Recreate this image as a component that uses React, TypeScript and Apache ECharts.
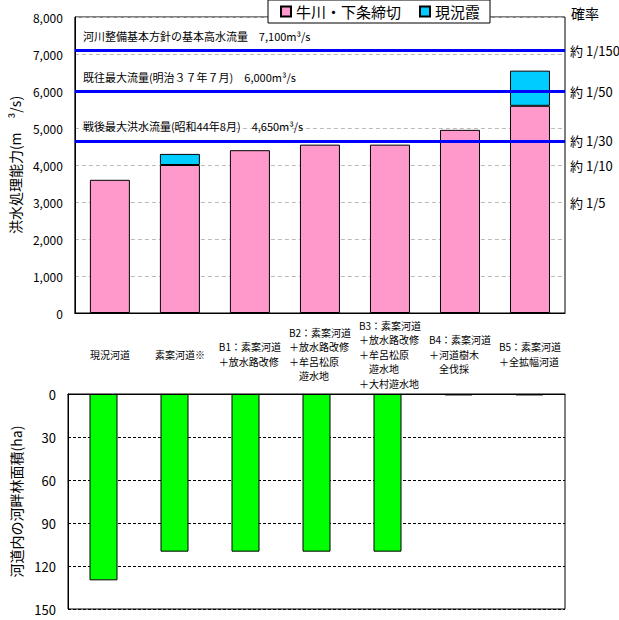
import React, { useEffect, useRef } from 'react';
import * as echarts from 'echarts';

const categories = [
  '現況河道',
  '素案河道※',
  'B1：素案河道\n＋放水路改修',
  'B2：素案河道\n＋放水路改修\n＋牟呂松原\n　遊水地',
  'B3：素案河道\n＋放水路改修\n＋牟呂松原\n　遊水地\n＋大村遊水地',
  'B4：素案河道\n＋河道樹木\n　全伐採',
  'B5：素案河道\n＋全拡幅河道',
];
const seriesNames = ['牛川・下条締切', '現況霞'];
const mainFlow = [3600, 4000, 4400, 4550, 4550, 4950, 5600];
const kasumiFlow = [null, 300, null, null, null, null, 950];
const forestArea = [130, 110, 110, 110, 110, 1, 1];
const refLineValues = [7100, 6000, 4650];
const refLineTexts = [
  '河川整備基本方針の基本高水流量　7,100m³/s',
  '既往最大流量(明治３７年７月)　6,000m³/s',
  '戦後最大洪水流量(昭和44年8月)　4,650m³/s',
];
const probValues = [7100, 6000, 4650, 4000, 3000];
const probTexts = ['約 1/150', '約 1/50', '約 1/30', '約 1/10', '約 1/5'];

const FONT = '"Noto Sans CJK JP", sans-serif';

export default function App() {
  const ref = useRef<HTMLDivElement>(null);
  useEffect(() => {
    if (!ref.current) return;
    const chart = echarts.init(ref.current, null, { renderer: 'svg' });
    const option: any = {
      animation: false,
      textStyle: { fontFamily: FONT, color: '#000' },
      title: {
        text: '確率',
        left: 566,
        top: 1,
        textStyle: { fontSize: 14, fontWeight: 'normal', color: '#000', fontFamily: FONT },
      },
      legend: {
        data: seriesNames,
        left: 268,
        top: 0,
        orient: 'horizontal',
        backgroundColor: '#fff',
        borderColor: '#000',
        borderWidth: 1,
        padding: [4, 10, 4, 12],
        itemWidth: 10,
        itemHeight: 10,
        itemGap: 18,
        icon: 'rect',
        textStyle: { fontSize: 15, color: '#000', fontFamily: FONT },
      },
      grid: [
        { left: 68, top: 17, width: 497, height: 296, show: true, borderColor: '#000', borderWidth: 1 },
        { left: 68, top: 394, width: 497, height: 215, show: true, borderColor: '#000', borderWidth: 1 },
      ],
      xAxis: [
        {
          type: 'category',
          gridIndex: 0,
          data: categories,
          axisLine: { lineStyle: { color: '#000' } },
          axisTick: { show: false },
          axisLabel: {
            interval: 0,
            margin: 41,
            verticalAlign: 'middle',
            formatter: (v: string) => v.split('\n').map((s) => `{l|${s}}`).join('\n'),
            rich: {
              l: { align: 'left', fontSize: 10, lineHeight: 14.5, color: '#000', fontFamily: FONT },
            },
          },
        },
        {
          type: 'category',
          gridIndex: 1,
          data: categories,
          position: 'top',
          axisLine: { lineStyle: { color: '#000' } },
          axisTick: { show: false },
          axisLabel: { show: false },
        },
      ],
      yAxis: [
        {
          type: 'value',
          gridIndex: 0,
          min: 0,
          max: 8000,
          interval: 1000,
          name: '洪水処理能力(m　³/s)',
          nameLocation: 'middle',
          nameGap: 44,
          nameRotate: 90,
          nameTextStyle: { fontSize: 14, color: '#000', fontFamily: FONT },
          axisLine: { show: true, lineStyle: { color: '#000' } },
          axisTick: { show: false },
          axisLabel: {
            fontSize: 12,
            color: '#000',
            margin: 12,
            formatter: (v: number) => v.toLocaleString('en-US'),
          },
          splitLine: { lineStyle: { color: '#bbb', type: [4, 3] } },
        },
        {
          type: 'value',
          gridIndex: 1,
          min: 0,
          max: 150,
          interval: 30,
          inverse: true,
          name: '河道内の河畔林面積(ha)',
          nameLocation: 'middle',
          nameGap: 44,
          nameRotate: 90,
          nameTextStyle: { fontSize: 14, color: '#000', fontFamily: FONT },
          axisLine: { show: true, lineStyle: { color: '#000' } },
          axisTick: { show: false },
          axisLabel: { fontSize: 13, color: '#000', margin: 12 },
          splitLine: { lineStyle: { color: '#000', type: [3, 2] } },
        },
      ],
      series: [
        {
          name: seriesNames[0],
          type: 'bar',
          stack: 'flow',
          xAxisIndex: 0,
          yAxisIndex: 0,
          barWidth: 40,
          data: mainFlow,
          itemStyle: { color: '#FF99CC', borderColor: '#000', borderWidth: 1 },
          markLine: {
            silent: true,
            symbol: 'none',
            lineStyle: { color: '#0000FF', width: 3, type: 'solid' },
            label: {
              position: 'insideStartTop',
              fontSize: 11,
              color: '#000',
              fontFamily: FONT,
              distance: [8, 9],
            },
            data: refLineValues.map((v, i) => ({
              yAxis: v,
              label: { formatter: refLineTexts[i] },
            })),
          },
        },
        {
          name: seriesNames[1],
          type: 'bar',
          stack: 'flow',
          xAxisIndex: 0,
          yAxisIndex: 0,
          barWidth: 40,
          data: kasumiFlow,
          itemStyle: { color: '#00CCFF', borderColor: '#000', borderWidth: 1 },
          markLine: {
            silent: true,
            symbol: 'none',
            lineStyle: { color: 'transparent', width: 1, type: 'solid' },
            label: {
              show: true,
              position: 'end',
              fontSize: 13,
              color: '#000',
              fontFamily: FONT,
              distance: 5,
            },
            data: probValues.map((v, i) => ({
              yAxis: v,
              label: { formatter: probTexts[i] },
            })),
          },
        },
        {
          name: '河畔林面積',
          type: 'bar',
          xAxisIndex: 1,
          yAxisIndex: 1,
          barWidth: 28,
          data: forestArea,
          itemStyle: { color: '#00FF00', borderColor: '#000', borderWidth: 1 },
        },
      ],
    };
    chart.setOption(option);
    return () => chart.dispose();
  }, []);
  return (
    <div
      ref={ref}
      style={{ position: 'fixed', left: 0, top: 0, width: 619, height: 620, background: '#fff' }}
    />
  );
}
